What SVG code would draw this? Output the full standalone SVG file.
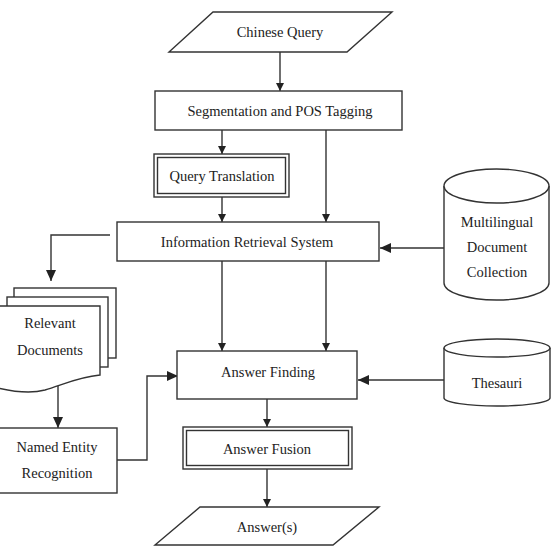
<svg xmlns="http://www.w3.org/2000/svg" width="555" height="554" viewBox="0 0 555 554">
<defs>
<marker id="ah" markerWidth="8" markerHeight="8" refX="8" refY="4" orient="auto" markerUnits="userSpaceOnUse"><path d="M0,0 L8,4 L0,8 Z" fill="#222"/></marker>
<marker id="ahL" markerWidth="11" markerHeight="10" refX="11" refY="5" orient="auto" markerUnits="userSpaceOnUse"><path d="M0,0 L11,5 L0,10 Z" fill="#222"/></marker>
<style>
.s{fill:#fff;stroke:#333;stroke-width:1.4}
.c{fill:none;stroke:#333;stroke-width:1.4}
text{font-family:"Liberation Serif","Times New Roman",serif;font-size:14.5px;fill:#222;text-anchor:middle;dominant-baseline:central}
</style>
</defs>
<rect width="555" height="554" fill="#fff"/>
<g id="connectors">
<path class="c" d="M280,52 V91" marker-end="url(#ah)"/>
<path class="c" d="M222,130 V154" marker-end="url(#ah)"/>
<path class="c" d="M326,130 V222" marker-end="url(#ah)"/>
<path class="c" d="M222,197 V222" marker-end="url(#ah)"/>
<path class="c" d="M444,248 H380" marker-end="url(#ahL)"/>
<path class="c" d="M110,235 H51 V281" marker-end="url(#ahL)"/>
<path class="c" d="M222,261 V351" marker-end="url(#ah)"/>
<path class="c" d="M326,261 V351" marker-end="url(#ah)"/>
<path class="c" d="M58,383 V428" marker-end="url(#ahL)"/>
<path class="c" d="M117,460 H147 V376 H178" marker-end="url(#ahL)"/>
<path class="c" d="M444,380 H358" marker-end="url(#ahL)"/>
<path class="c" d="M267,399 V427" marker-end="url(#ah)"/>
<path class="c" d="M267,469 V507" marker-end="url(#ah)"/>
</g>
<g id="chinese-query">
<path class="s" d="M213,12 H392 L347,52 H169 Z"/>
<text x="280" y="32">Chinese Query</text>
</g>
<g id="segmentation">
<rect class="s" x="155" y="91" width="247" height="39"/>
<text x="280" y="111">Segmentation and POS Tagging</text>
</g>
<g id="query-translation">
<rect class="s" x="154" y="154" width="135" height="43"/>
<rect class="s" x="157.5" y="157.5" width="128" height="36"/>
<text x="222" y="176">Query Translation</text>
</g>
<g id="ir-system">
<rect class="s" x="117" y="222" width="262" height="39"/>
<text x="247" y="242">Information Retrieval System</text>
</g>
<g id="multilingual-collection">
<path class="s" d="M444,186 V283 A52.5,17 0 0 0 549,283 V186"/>
<ellipse class="s" cx="496.5" cy="186" rx="52.5" ry="17"/>
<text x="497" y="222">Multilingual</text>
<text x="497" y="247">Document</text>
<text x="497" y="272">Collection</text>
</g>
<g id="relevant-documents">
<rect class="s" x="14" y="288" width="102" height="70"/>
<rect class="s" x="7" y="297" width="101" height="70"/>
<path class="s" d="M-2,306 H100 V375 C78,377 62,385 45,390 C30,394 15,392 -2,388 Z"/>
<text x="50" y="323">Relevant</text>
<text x="50" y="350">Documents</text>
</g>
<g id="named-entity-recognition">
<rect class="s" x="-2" y="428" width="119" height="65"/>
<text x="57" y="447">Named Entity</text>
<text x="57" y="473">Recognition</text>
</g>
<g id="answer-finding">
<rect class="s" x="177" y="351" width="180" height="48"/>
<text x="268" y="372">Answer Finding</text>
</g>
<g id="thesauri">
<path class="s" d="M444,348 V398 A53,8 0 0 0 550,398 V348"/>
<ellipse class="s" cx="497" cy="348" rx="53" ry="9"/>
<text x="497" y="383">Thesauri</text>
</g>
<g id="answer-fusion">
<rect class="s" x="183" y="427" width="169" height="42"/>
<rect class="s" x="186.5" y="430.5" width="162" height="35"/>
<text x="267" y="449">Answer Fusion</text>
</g>
<g id="answers">
<path class="s" d="M200,507 H379 L333,545 H155 Z"/>
<text x="267" y="527">Answer(s)</text>
</g>
</svg>
